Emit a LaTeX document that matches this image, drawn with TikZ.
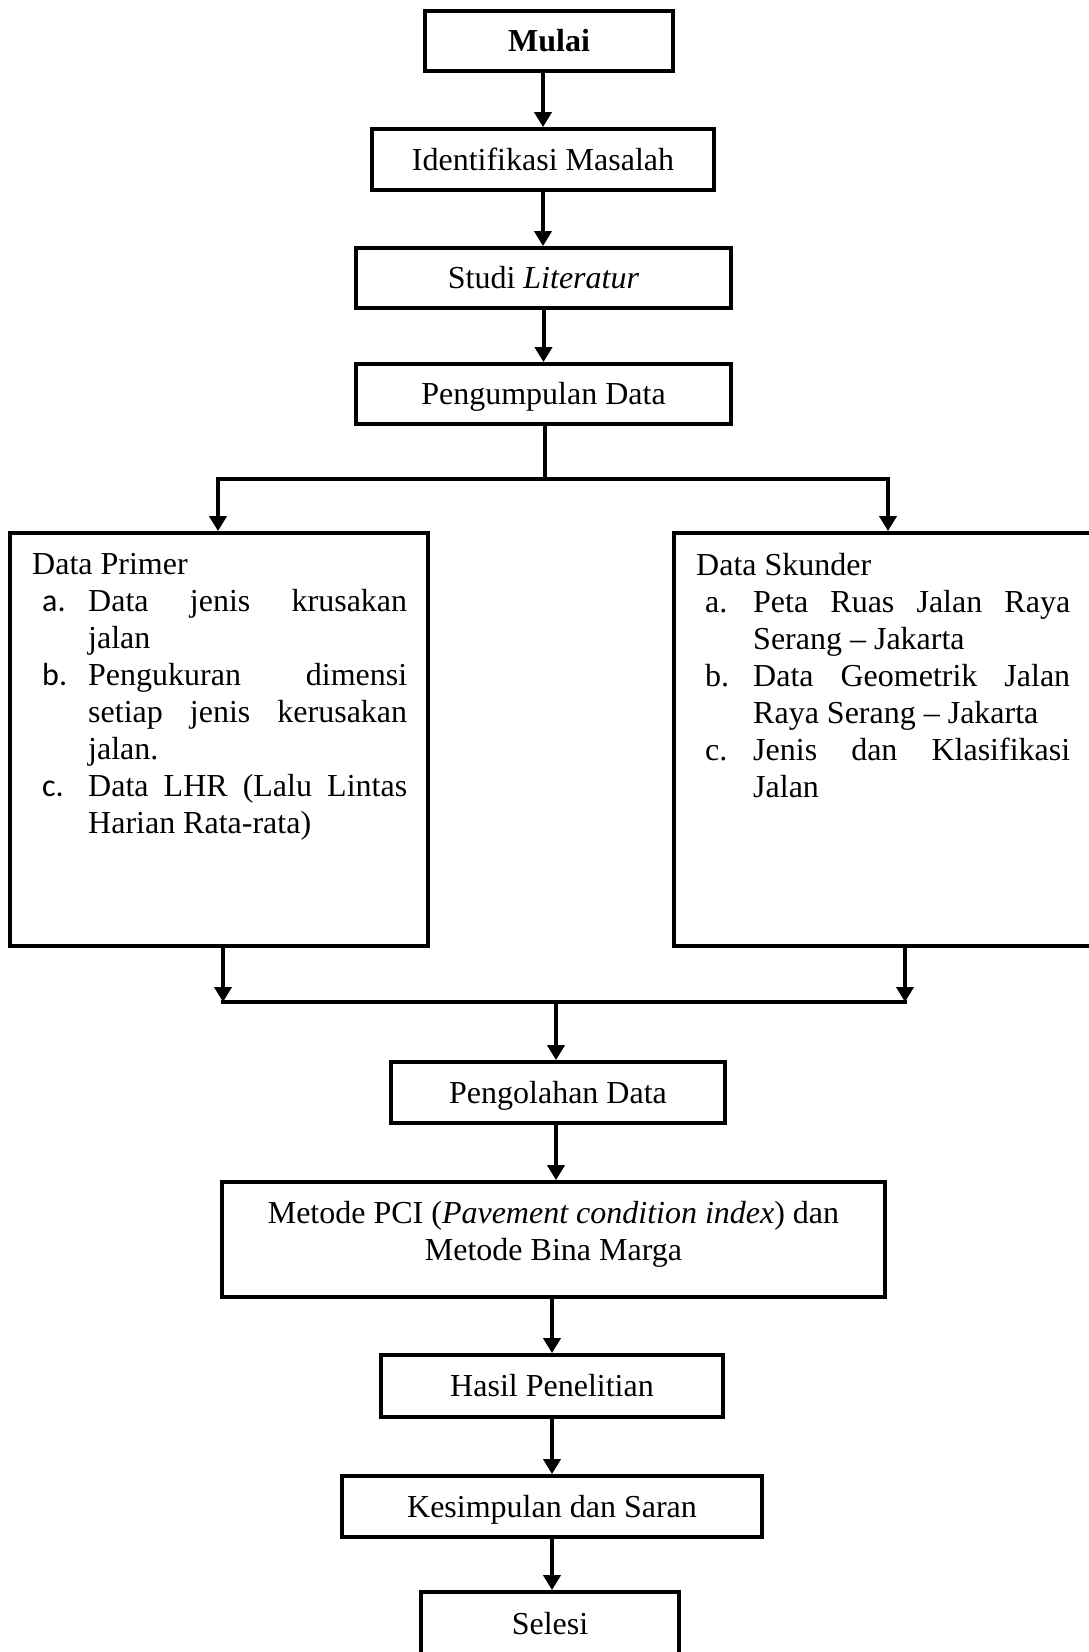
\documentclass[tikz,border=0pt]{standalone}
\usepackage{fontspec}
\setmainfont{Liberation Serif}
\newfontfamily\lblfont{Carlito}
\usetikzlibrary{arrows.meta}
\begin{document}
\begin{tikzpicture}[x=1pt,y=-1pt,
  box/.style={draw, line width=3.8pt, inner sep=0pt, text height=21pt, text depth=0pt,
    font=\fontsize{32}{37}\selectfont, align=center},
  listtxt/.style={anchor=north west, inner sep=0pt, text width=#1, align=justify,
    font=\fontsize{32}{37}\selectfont},
  arr/.style={line width=4pt, -{Triangle[length=15pt,width=17pt]}},
  ln/.style={line width=4pt, line cap=rect}]
\useasboundingbox (0,0) rectangle (1089,1652);

\node[box, minimum width=248pt, minimum height=60pt, font=\fontsize{32}{37}\selectfont\bfseries] (mulai) at (549,41) {Mulai};
\node[box, minimum width=342pt, minimum height=61pt] (ident) at (543,159.5) {Identifikasi Masalah};
\node[box, minimum width=375pt, minimum height=60pt] (studi) at (543.5,278) {Studi \textit{Literatur}};
\node[box, minimum width=375pt, minimum height=60pt] (kumpul) at (543.5,394) {Pengumpulan Data};

\node[box, minimum width=418pt, minimum height=413pt] (primer) at (219,739.5) {};
\node[listtxt=375pt] (primertxt) at (32,553) {\parindent=0pt
Data Primer\par
\hangindent=56pt\hangafter=1\hspace*{10pt}\makebox[46pt][l]{\lblfont a.}Data jenis krusakan\linebreak jalan\par
\hangindent=56pt\hangafter=1\hspace*{10pt}\makebox[46pt][l]{\lblfont b.}Pengukuran dimensi\linebreak setiap jenis kerusakan\linebreak jalan.\par
\hangindent=56pt\hangafter=1\hspace*{10pt}\makebox[46pt][l]{\lblfont c.}Data LHR (Lalu Lintas\linebreak Harian Rata-rata)\par};

\node[box, minimum width=418pt, minimum height=413pt] (skunder) at (883,739.5) {};
\node[listtxt=374pt] (skundertxt) at (696,553) {\parindent=0pt
Data Skunder\par
\hangindent=57pt\hangafter=1\hspace*{9pt}\makebox[48pt][l]{a.}Peta Ruas Jalan Raya\linebreak Serang – Jakarta\par
\hangindent=57pt\hangafter=1\hspace*{9pt}\makebox[48pt][l]{b.}Data Geometrik Jalan\linebreak Raya Serang – Jakarta\par
\hangindent=57pt\hangafter=1\hspace*{9pt}\makebox[48pt][l]{c.}Jenis dan Klasifikasi\linebreak Jalan\par};

\node[box, minimum width=334pt, minimum height=61pt] (olah) at (558,1092.5) {Pengolahan Data};
\node[box, minimum width=663pt, minimum height=115pt] (metode) at (553.5,1239.5) {};
\node[align=center, inner sep=0pt, font=\fontsize{32}{37}\selectfont] (metodetxt) at (553.5,1234)
  {Metode PCI (\textit{Pavement condition index}) dan\\Metode Bina Marga};
\node[box, minimum width=342pt, minimum height=62pt] (hasil) at (552,1386) {Hasil Penelitian};
\node[box, minimum width=420pt, minimum height=61pt] (simpul) at (552,1506.5) {Kesimpulan dan Saran};
\node[box, minimum width=258pt, minimum height=64pt] (selesi) at (550,1624) {Selesi};

\coordinate (split) at (545,479);
\coordinate (splitL) at (218,479);
\coordinate (splitR) at (888,479);
\coordinate (joinL) at (223,1002);
\coordinate (joinR) at (905,1002);
\coordinate (join) at (556,1002);

\draw[arr] (ident.north |- mulai.south) -- (ident.north);
\draw[arr] (ident.south) -- (ident.south |- studi.north);
\draw[arr] (studi.south) -- (studi.south |- kumpul.north);
\draw[ln] (split |- kumpul.south) -- (split);
\draw[ln] (splitL) -- (splitR);
\draw[arr] (splitL) -- (splitL |- primer.north);
\draw[arr] (splitR) -- (splitR |- skunder.north);
\draw[arr] (joinL |- primer.south) -- (joinL);
\draw[arr] (joinR |- skunder.south) -- (joinR);
\draw[ln] (joinL) -- (joinR);
\draw[arr] (join) -- (join |- olah.north);
\draw[arr] (join |- olah.south) -- (join |- metode.north);
\draw[arr] (hasil.north |- metode.south) -- (hasil.north);
\draw[arr] (hasil.south) -- (hasil.south |- simpul.north);
\draw[arr] (simpul.south) -- (simpul.south |- selesi.north);
\end{tikzpicture}
\end{document}
